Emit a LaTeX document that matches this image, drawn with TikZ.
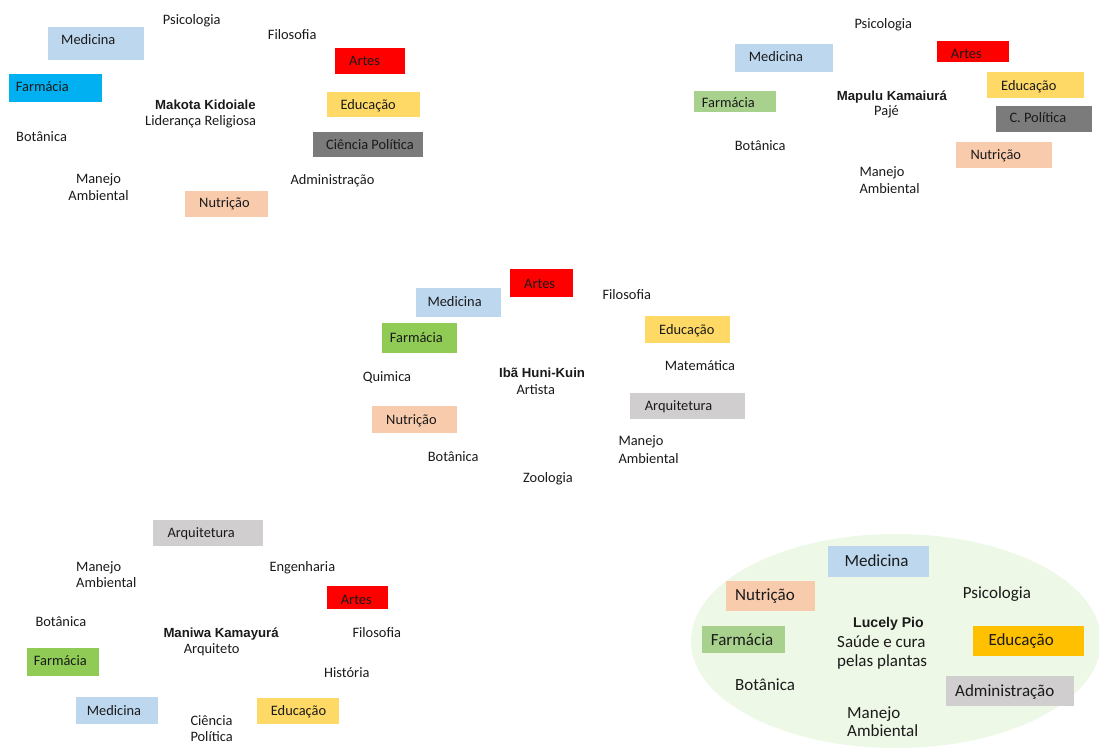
\documentclass[tikz,border=0pt]{standalone}
\usepackage{fontspec}
\setmainfont{Carlito}
\newfontfamily\namefont{Liberation Sans}
\definecolor{medc}{HTML}{BDD7EE}
\definecolor{artc}{HTML}{FF0000}
\definecolor{educ}{HTML}{FFD966}
\definecolor{edustrong}{HTML}{FFC000}
\definecolor{nutc}{HTML}{F8CBAD}
\definecolor{farblue}{HTML}{00B0F0}
\definecolor{farsoft}{HTML}{A9D18E}
\definecolor{farlime}{HTML}{8FCB55}
\definecolor{polc}{HTML}{7B7B7B}
\definecolor{lgrey}{HTML}{D0CECE}
\definecolor{ellc}{HTML}{EEF8E6}
\definecolor{txt}{HTML}{1A1A1A}
\newcommand\bxt[3]{\makebox[#1pt][l]{\hspace*{#2pt}#3}}
\tikzset{
  lab/.style={inner sep=0pt, anchor=base west, text=txt, font=\fontsize{14.4}{16.5}\selectfont},
  labbig/.style={inner sep=0pt, anchor=base west, text=txt, font=\fontsize{17}{19.2}\selectfont},
  who/.style={inner sep=0pt, anchor=base west, text=txt, font=\namefont\bfseries\fontsize{13.2}{15}\selectfont},
  bx/.style={fill=#1, inner sep=0pt, anchor=base west, text=txt, font=\fontsize{14.4}{16.5}\selectfont},
  bxbig/.style={fill=#1, inner sep=0pt, anchor=base west, text=txt, font=\fontsize{17}{19.2}\selectfont},
}
\begin{document}
\begin{tikzpicture}[x=1pt,y=-1pt]
\useasboundingbox (0,0) rectangle (1099,748);
\fill[white] (0,0) rectangle (1099,748);

% ---------- Panel 1: Makota Kidoiale ----------
\node[lab] (p1psi) at (162.7,24.3) {Psicologia};
\node[lab] (p1fil) at (267.7,39.3) {Filosofia};
\node[who] (p1name) at (155,109.3) {Makota Kidoiale};
\node[lab] (p1role) at (145,125) {Liderança Religiosa};
\node[lab] (p1bot) at (16,141.3) {Botânica};
\node[lab, anchor=base, align=center] (p1man) at (98.5,200) {Manejo\\Ambiental};
\node[lab] (p1adm) at (290.3,184) {Administração};
\node[bx=medc, text height=16.7pt, text depth=16.3pt] (p1med) at (47.3,44) {\bxt{96}{13.7}{Medicina}};
\node[bx=artc, text height=17pt, text depth=8.4pt] (p1art) at (335,65.3) {\bxt{70}{14}{Artes}};
\node[bx=farblue, text height=17pt, text depth=10.7pt] (p1far) at (8.3,91) {\bxt{93.4}{7.4}{Farmácia}};
\node[bx=educ, text height=16.7pt, text depth=8.3pt] (p1edu) at (326.7,109) {\bxt{93.3}{13.6}{Educação}};
\node[bx=polc, text height=17pt, text depth=8pt] (p1pol) at (312.3,149) {\bxt{110}{13.7}{Ciência Política}};
\node[bx=nutc, text height=16.6pt, text depth=9.4pt] (p1nut) at (185,207.3) {\bxt{82.3}{14}{Nutrição}};

% ---------- Panel 2: Mapulu Kamaiura ----------
\node[lab] (p2psi) at (854.3,28.3) {Psicologia};
\node[who] (p2name) at (836.7,100) {Mapulu Kamaiurá};
\node[lab] (p2role) at (874,115) {Pajé};
\node[lab] (p2bot) at (734.7,150) {Botânica};
\node[lab, align=left] (p2man) at (859.3,193.3) {Manejo\\Ambiental};
\node[bx=medc, text height=17.4pt, text depth=10pt] (p2med) at (734.3,61.7) {\bxt{98.4}{14.4}{Medicina}};
\node[bx=artc, text height=17.6pt, text depth=4pt] (p2art) at (936.3,58.3) {\bxt{72.4}{14.4}{Artes}};
\node[bx=educ, text height=18pt, text depth=8pt] (p2edu) at (987,90) {\bxt{96.3}{14}{Educação}};
\node[bx=farsoft, text height=16.7pt, text depth=4.3pt] (p2far) at (694,107.7) {\bxt{81.7}{7.7}{Farmácia}};
\node[bx=polc, text height=16.7pt, text depth=9pt] (p2pol) at (995.3,122.7) {\bxt{96.7}{14}{C. Política}};
\node[bx=nutc, text height=17.6pt, text depth=8.7pt] (p2nut) at (956,159.3) {\bxt{96}{14.3}{Nutrição}};

% ---------- Panel 3: Iba Huni-Kuin ----------
\node[lab] (p3fil) at (602.3,299.3) {Filosofia};
\node[lab] (p3mat) at (664.7,370) {Matemática};
\node[who] (p3name) at (499,377.7) {Ibã Huni-Kuin};
\node[lab] (p3qui) at (362.7,381.7) {Quimica};
\node[lab] (p3role) at (516.3,394.3) {Artista};
\node[lab, align=left, font=\fontsize{14.4}{17.6}\selectfont] (p3man) at (618.3,463.3) {Manejo\\Ambiental};
\node[lab] (p3bot) at (427.7,461) {Botânica};
\node[lab] (p3zoo) at (523,482.7) {Zoologia};
\node[bx=artc, text height=19pt, text depth=8.4pt] (p3art) at (509.3,288.3) {\bxt{63.4}{14.7}{Artes}};
\node[bx=medc, text height=18.4pt, text depth=10pt] (p3med) at (415.7,306.7) {\bxt{85.3}{11.6}{Medicina}};
\node[bx=farlime, text height=18.7pt, text depth=10.7pt] (p3far) at (381.7,342) {\bxt{75}{8}{Farmácia}};
\node[bx=educ, text height=18pt, text depth=8.7pt] (p3edu) at (644.7,334) {\bxt{85.3}{14.3}{Educação}};
\node[bx=lgrey, text height=18pt, text depth=8.6pt] (p3arq) at (630,410.7) {\bxt{114.3}{14.7}{Arquitetura}};
\node[bx=nutc, text height=18.3pt, text depth=8.4pt] (p3nut) at (371.7,424.3) {\bxt{85.3}{14.3}{Nutrição}};

% ---------- Panel 4: Maniwa Kamayura ----------
\node[lab, align=left, font=\fontsize{14.4}{16}\selectfont] (p4man) at (76,587.7) {Manejo\\Ambiental};
\node[lab] (p4eng) at (269.3,571.7) {Engenharia};
\node[lab] (p4bot) at (35.3,626.7) {Botânica};
\node[who] (p4name) at (163.3,637.3) {Maniwa Kamayurá};
\node[lab] (p4fil) at (352.3,637.3) {Filosofia};
\node[lab] (p4role) at (183.7,653.3) {Arquiteto};
\node[lab] (p4his) at (324,677.3) {História};
\node[lab, align=left] (p4pol) at (190.3,741.7) {Ciência\\Política};
\node[bx=lgrey, text height=17.3pt, text depth=8.4pt] (p4arq) at (153,537.3) {\bxt{109.3}{14.3}{Arquitetura}};
\node[bx=artc, text height=18pt, text depth=5pt] (p4art) at (326.7,604) {\bxt{60.6}{14}{Artes}};
\node[bx=farlime, text height=17.3pt, text depth=10.7pt] (p4far) at (26.3,665) {\bxt{72}{7.4}{Farmácia}};
\node[bx=medc, text height=17.7pt, text depth=9.3pt] (p4med) at (76,715) {\bxt{81.7}{10.7}{Medicina}};
\node[bx=educ, text height=17.4pt, text depth=8.6pt] (p4edu) at (256.7,715.7) {\bxt{81.6}{14}{Educação}};

% ---------- Panel 5: Lucely Pio ----------
\fill[ellc] (896,641) ellipse [x radius=205, y radius=107];
\node[labbig] (p5psi) at (962.7,598.3) {Psicologia};
\node[who, font=\namefont\bfseries\fontsize{14.1}{16}\selectfont] (p5name) at (853,627.7) {Lucely Pio};
\node[labbig, align=left, font=\fontsize{17}{19.4}\selectfont] (p5role) at (837,666.7) {Saúde e cura\\pelas plantas};
\node[labbig] (p5bot) at (735,690) {Botânica};
\node[labbig, align=left, font=\fontsize{17}{18.4}\selectfont] (p5man) at (847,736.7) {Manejo\\Ambiental};
\node[bxbig=medc, text height=20.7pt, text depth=10.6pt] (p5med) at (828,566.7) {\bxt{100.7}{16.3}{Medicina}};
\node[bxbig=nutc, text height=20pt, text depth=10pt] (p5nut) at (726,600.7) {\bxt{88.3}{9}{Nutrição}};
\node[bxbig=farsoft, text height=19.3pt, text depth=8.3pt] (p5far) at (701.7,645) {\bxt{82.6}{9}{Farmácia}};
\node[bxbig=edustrong, text height=19.3pt, text depth=10.7pt] (p5edu) at (972.3,645) {\bxt{111}{16}{Educação}};
\node[bxbig=lgrey, text height=20.3pt, text depth=9.7pt] (p5adm) at (946,696) {\bxt{127.3}{9}{Administração}};
\end{tikzpicture}
\end{document}
